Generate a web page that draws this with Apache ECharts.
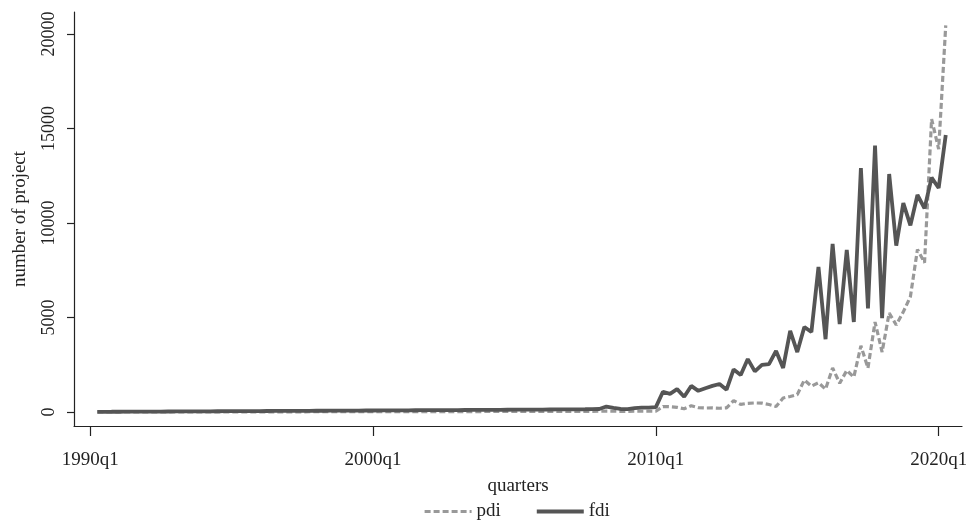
<!DOCTYPE html>
<html>
<head>
<meta charset="utf-8">
<script src="https://cdn.jsdelivr.net/npm/echarts@6/dist/echarts.min.js"></script>
<style>
  html, body { margin: 0; padding: 0; background: #fff; }
  #chart { width: 966px; height: 523px; }
</style>
</head>
<body>
<div id="chart"></div>
<script>
// Quarterly project counts, 1990q2 .. 2020q2
const startYear = 1990, startQuarter = 2;
const pdi = [
  2, 2, 3, 3, 3, 4, 4, 4, 5, 5, 5, 6, 6, 6, 7, 7, 7, 8, 8, 8,
  9, 9, 10, 10, 10, 11, 11, 12, 12, 12, 13, 13, 14, 14, 15, 15, 16, 16, 17, 17,
  18, 18, 19, 19, 20, 20, 21, 21, 22, 22, 23, 24, 24, 25, 25, 26, 27, 27, 28, 29,
  29, 30, 31, 31, 32, 33, 34, 35, 36, 36, 37, 40, 42, 40, 38, 38, 39, 40, 41, 42,
  290, 280, 250, 170, 330, 230, 210, 220, 200, 220,
  600, 400, 460, 480, 470, 400, 290, 740, 820, 920,
  1690, 1370, 1550, 1210, 2330, 1520, 2200, 1850, 3500, 2330,
  4760, 3170, 5240, 4600, 5300, 6100, 8600, 7900, 15500, 13900,
  20450
];
const fdi = [
  10, 12, 13, 15, 17, 18, 20, 22, 24, 25, 27, 29, 31, 33, 34, 36, 38, 40, 42, 44,
  46, 47, 49, 51, 53, 55, 57, 58, 60, 62, 64, 66, 68, 70, 71, 73, 75, 77, 79, 81,
  83, 85, 87, 89, 91, 93, 95, 97, 99, 101, 103, 105, 107, 109, 111, 114, 116, 118, 120, 122,
  124, 127, 129, 131, 134, 136, 138, 141, 143, 146, 150, 160, 290, 220, 160, 150, 200, 230, 230, 260,
  1070, 960, 1210, 810, 1380, 1120, 1260, 1380, 1480, 1180,
  2250, 1960, 2800, 2150, 2490, 2530, 3230, 2330, 4290, 3170,
  4500, 4230, 7670, 3850, 8890, 4650, 8570, 4760, 12900, 5480,
  14100, 4970, 12590, 8800, 11050, 9870, 11480, 10770, 12400, 11850,
  14650
];
const xTicks = [0, 40, 80, 120];           // 1990q1, 2000q1, 2010q1, 2020q1
const yTicks = [0, 5000, 10000, 15000, 20000];

// quarter index counted from 1990q1
function quarterIndex(k) { return (startYear - 1990) * 4 + (startQuarter - 1) + k; }
function quarterLabel(idx) {
  const y = 1990 + Math.floor(idx / 4);
  const q = (idx % 4) + 1;
  return y + 'q' + q;
}
const quarters = pdi.map((_, k) => quarterLabel(quarterIndex(k)));
const toPairs = arr => arr.map((v, k) => [quarterIndex(k), v]);

const FONT = 'Liberation Serif';
const INK = '#222';
const PDI_STYLE = { color: '#999999', width: 3.2, type: [6, 3] };
const FDI_STYLE = { color: '#555555', width: 3.8 };

const chart = echarts.init(document.getElementById('chart'), null, { renderer: 'canvas' });
chart.setOption({
  animation: false,
  backgroundColor: '#fff',
  grid: { left: 74, right: 4, top: 12, bottom: 97, containLabel: false, outerBoundsMode: 'none' },
  xAxis: {
    type: 'value',
    min: -2.3,
    max: 123.3,
    name: 'quarters',
    nameLocation: 'middle',
    nameGap: 51,
    nameTextStyle: { fontFamily: FONT, fontSize: 19, color: INK },
    axisLine: { onZero: false, lineStyle: { color: INK, width: 1.2 } },
    axisTick: { show: true, length: 10, customValues: xTicks, lineStyle: { color: INK, width: 1.2 } },
    axisLabel: {
      customValues: xTicks,
      formatter: v => quarterLabel(v),
      fontFamily: FONT, fontSize: 19, color: INK, margin: 25
    },
    splitLine: { show: false }
  },
  yAxis: {
    type: 'value',
    min: -740,
    max: 21160,
    name: 'number of project',
    nameLocation: 'middle',
    nameGap: 44,
    nameRotate: 90,
    nameTextStyle: { fontFamily: FONT, fontSize: 19, color: INK },
    axisLine: { onZero: false, lineStyle: { color: INK, width: 1.2 } },
    axisTick: { show: true, length: 7, customValues: yTicks, lineStyle: { color: INK, width: 1.2 } },
    axisLabel: {
      customValues: yTicks,
      formatter: v => String(v),
      rotate: 90,
      fontFamily: FONT, fontSize: 18, color: INK, margin: 16
    },
    splitLine: { show: false }
  },
  legend: {
    left: 418,
    top: 497,
    itemWidth: 47,
    itemHeight: 12,
    itemGap: 34,
    itemStyle: { opacity: 0 },
    textStyle: { fontFamily: FONT, fontSize: 19, color: INK },
    data: [
      { name: 'pdi', lineStyle: PDI_STYLE },
      { name: 'fdi', lineStyle: FDI_STYLE }
    ]
  },
  series: [
    {
      name: 'pdi',
      type: 'line',
      symbol: 'none',
      data: toPairs(pdi),
      lineStyle: PDI_STYLE,
      itemStyle: { color: '#999999' },
      z: 2
    },
    {
      name: 'fdi',
      type: 'line',
      symbol: 'none',
      data: toPairs(fdi),
      lineStyle: FDI_STYLE,
      itemStyle: { color: '#555555' },
      z: 3
    }
  ]
});
</script>
</body>
</html>
